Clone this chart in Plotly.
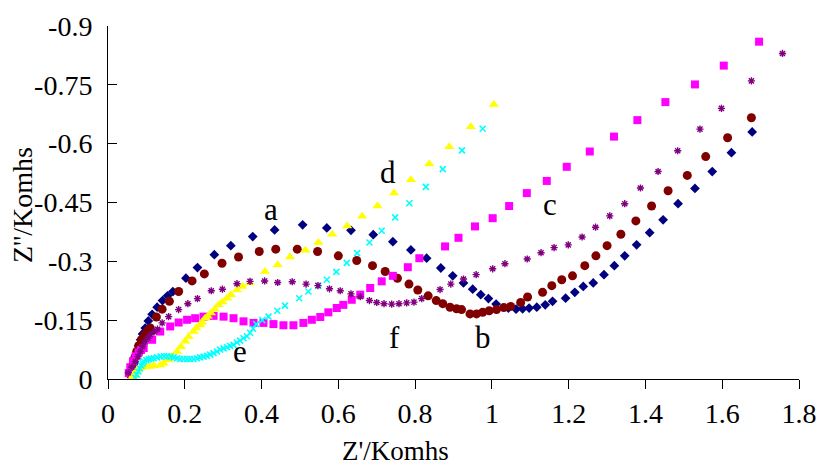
import plotly.graph_objects as go

# ---------------- data (Z' in kOhm, Z'' in kOhm, negative) ----------------
a_x = [0.062, 0.065, 0.068, 0.072, 0.076, 0.080, 0.085, 0.090, 0.097, 0.105, 0.115, 0.128, 0.142, 0.155,
       0.169, 0.203, 0.233, 0.277, 0.320, 0.377, 0.434, 0.507, 0.570, 0.633, 0.691,
       0.742, 0.789, 0.830, 0.867, 0.898, 0.926, 0.950, 0.971, 0.991, 1.011, 1.043, 1.063, 1.080,
       1.097, 1.117, 1.139, 1.158, 1.192, 1.216, 1.238, 1.264, 1.292, 1.319, 1.346, 1.377, 1.411,
       1.446, 1.485, 1.529, 1.574, 1.624, 1.678]
a_y = [-0.010, -0.025, -0.040, -0.055, -0.070, -0.085, -0.100, -0.115, -0.130, -0.148, -0.165, -0.183, -0.200, -0.212,
       -0.223, -0.257, -0.284, -0.317, -0.340, -0.363, -0.380, -0.393, -0.385, -0.379, -0.368,
       -0.350, -0.329, -0.308, -0.283, -0.263, -0.245, -0.229, -0.215, -0.205, -0.191, -0.181, -0.178, -0.179,
       -0.181, -0.183, -0.189, -0.198, -0.206, -0.221, -0.236, -0.245, -0.266, -0.289, -0.314, -0.342, -0.373,
       -0.406, -0.447, -0.486, -0.529, -0.577, -0.630]

b_x = [0.058, 0.062, 0.066, 0.070, 0.075, 0.080, 0.087, 0.095, 0.102, 0.110, 0.126, 0.141, 0.160, 0.184,
       0.219, 0.251, 0.297, 0.340, 0.394, 0.437, 0.493, 0.546, 0.600, 0.648, 0.689, 0.722, 0.754,
       0.784, 0.807, 0.834, 0.855, 0.872, 0.891, 0.908, 0.921, 0.943, 0.960, 0.976, 0.993, 1.012,
       1.031, 1.049, 1.075, 1.093, 1.132, 1.156, 1.182, 1.210, 1.242, 1.271, 1.300, 1.336, 1.375,
       1.416, 1.459, 1.509, 1.557, 1.614, 1.676]
b_y = [-0.011, -0.025, -0.040, -0.055, -0.070, -0.085, -0.100, -0.112, -0.122, -0.130, -0.158, -0.178, -0.198, -0.223,
       -0.250, -0.268, -0.295, -0.311, -0.325, -0.331, -0.331, -0.325, -0.314, -0.302, -0.289, -0.274, -0.257,
       -0.242, -0.227, -0.212, -0.200, -0.192, -0.183, -0.179, -0.177, -0.166, -0.166, -0.170, -0.174, -0.177,
       -0.182, -0.185, -0.195, -0.209, -0.221, -0.238, -0.253, -0.263, -0.289, -0.314, -0.340, -0.369, -0.403,
       -0.441, -0.480, -0.519, -0.567, -0.615, -0.666]

c_x = [0.054, 0.058, 0.065, 0.072, 0.080, 0.086, 0.093, 0.115, 0.136, 0.162, 0.184, 0.206, 0.227, 0.249,
       0.275, 0.301, 0.327, 0.353, 0.379, 0.405, 0.431, 0.457, 0.483, 0.509, 0.531, 0.553, 0.574,
       0.596, 0.613, 0.635, 0.657, 0.683, 0.713, 0.742, 0.781, 0.811, 0.878, 0.913, 0.956, 1.002,
       1.045, 1.091, 1.143, 1.195, 1.255, 1.318, 1.379, 1.452, 1.529, 1.604, 1.696]
c_y = [-0.015, -0.030, -0.045, -0.058, -0.068, -0.074, -0.079, -0.100, -0.121, -0.134, -0.144, -0.151, -0.155, -0.159,
       -0.161, -0.159, -0.155, -0.147, -0.143, -0.143, -0.140, -0.137, -0.137, -0.143, -0.151, -0.158, -0.170,
       -0.181, -0.189, -0.202, -0.215, -0.232, -0.249, -0.263, -0.285, -0.308, -0.338, -0.360, -0.389, -0.410,
       -0.441, -0.474, -0.505, -0.541, -0.580, -0.618, -0.660, -0.706, -0.751, -0.799, -0.860]

d_x = [0.062, 0.066, 0.070, 0.075, 0.084, 0.090, 0.100, 0.110, 0.120, 0.136, 0.145, 0.158, 0.165, 0.180,
       0.190, 0.201, 0.210, 0.223, 0.230, 0.240, 0.245, 0.253, 0.260, 0.268, 0.278, 0.288, 0.298,
       0.310, 0.320, 0.336, 0.350, 0.369, 0.409, 0.442, 0.474, 0.514, 0.548, 0.584, 0.623, 0.662,
       0.702, 0.745, 0.789, 0.837, 0.889, 0.945, 1.005]
d_y = [-0.002, -0.008, -0.015, -0.022, -0.028, -0.030, -0.031, -0.032, -0.034, -0.036, -0.040, -0.049, -0.057, -0.070,
       -0.082, -0.096, -0.108, -0.121, -0.130, -0.138, -0.145, -0.155, -0.160, -0.168, -0.178, -0.189, -0.196,
       -0.206, -0.215, -0.227, -0.236, -0.245, -0.274, -0.291, -0.311, -0.328, -0.348, -0.369, -0.390, -0.415,
       -0.441, -0.474, -0.508, -0.548, -0.592, -0.643, -0.700]

e_x = [0.071, 0.075, 0.079, 0.083, 0.087, 0.090, 0.093, 0.100, 0.106, 0.112, 0.119, 0.128, 0.137, 0.146,
       0.154, 0.163, 0.171, 0.180, 0.188, 0.197, 0.206, 0.214, 0.223, 0.232, 0.240, 0.249, 0.258,
       0.266, 0.275, 0.284, 0.292, 0.301, 0.310, 0.318, 0.327, 0.336, 0.344, 0.353, 0.362, 0.370,
       0.378, 0.386, 0.402, 0.418, 0.441, 0.461, 0.498, 0.522, 0.548, 0.570, 0.595, 0.622, 0.649,
       0.681, 0.713, 0.748, 0.785, 0.828, 0.872, 0.922, 0.976]
e_y = [-0.003, -0.011, -0.019, -0.027, -0.034, -0.040, -0.045, -0.048, -0.050, -0.052, -0.053, -0.055, -0.057, -0.058,
       -0.058, -0.057, -0.055, -0.053, -0.051, -0.051, -0.051, -0.051, -0.051, -0.053, -0.055, -0.057, -0.059,
       -0.062, -0.066, -0.070, -0.075, -0.078, -0.081, -0.084, -0.087, -0.093, -0.098, -0.104, -0.109, -0.118,
       -0.128, -0.140, -0.150, -0.159, -0.174, -0.187, -0.206, -0.223, -0.238, -0.253, -0.273, -0.296, -0.321,
       -0.348, -0.378, -0.412, -0.448, -0.490, -0.535, -0.583, -0.638]

f_x = [0.053, 0.062, 0.071, 0.078, 0.084, 0.090, 0.097, 0.104, 0.110, 0.120, 0.129, 0.141, 0.158, 0.184,
       0.208, 0.233, 0.269, 0.298, 0.336, 0.370, 0.408, 0.442, 0.480, 0.516, 0.547, 0.577, 0.605,
       0.633, 0.657, 0.681, 0.700, 0.719, 0.739, 0.758, 0.778, 0.797, 0.817, 0.865, 0.893, 0.926,
       0.959, 1.002, 1.034, 1.092, 1.128, 1.162, 1.199, 1.235, 1.270, 1.307, 1.346, 1.387, 1.433,
       1.484, 1.542, 1.598, 1.676, 1.757]
f_y = [-0.016, -0.030, -0.044, -0.057, -0.070, -0.083, -0.095, -0.104, -0.113, -0.120, -0.127, -0.143, -0.159, -0.177,
       -0.192, -0.205, -0.225, -0.229, -0.243, -0.249, -0.250, -0.246, -0.248, -0.242, -0.238, -0.230, -0.225,
       -0.217, -0.210, -0.200, -0.195, -0.192, -0.191, -0.192, -0.194, -0.196, -0.205, -0.228, -0.242, -0.255,
       -0.266, -0.281, -0.294, -0.306, -0.322, -0.335, -0.342, -0.362, -0.387, -0.416, -0.447, -0.487, -0.529,
       -0.582, -0.637, -0.690, -0.760, -0.830]

x_ticks = [0, 0.2, 0.4, 0.6, 0.8, 1, 1.2, 1.4, 1.6, 1.8]
x_tick_text = ["0", "0.2", "0.4", "0.6", "0.8", "1", "1.2", "1.4", "1.6", "1.8"]
y_ticks = [0, -0.15, -0.3, -0.45, -0.6, -0.75, -0.9]
y_tick_text = ["0", "-0.15", "-0.3", "-0.45", "-0.6", "-0.75", "-0.9"]

label_text = ["a", "b", "c", "d", "e", "f"]
label_x = [0.425, 0.977, 1.151, 0.730, 0.344, 0.745]
label_y = [-0.431, -0.105, -0.444, -0.527, -0.070, -0.105]

# ---------------- figure ----------------
FONT = "Liberation Serif, Times New Roman, serif"
W, H = 819, 468
L, R, T, B = 108, 20, 26, 89

series = [
    (a_x, a_y, "diamond", "#000080", 7.5, 0),
    (b_x, b_y, "circle", "#800000", 9, 0),
    (c_x, c_y, "square", "#FF00FF", 8, 0),
    (d_x, d_y, "triangle-up", "#FFFF00", 9, 0),
    (e_x, e_y, "x-thin-open", "#00FFFF", 6, 1.6),
    (f_x, f_y, "asterisk-open", "#800080", 6, 1.4),
]

fig = go.Figure()
for xs, ys, sym, col, sz, lw in series:
    if lw:
        mk = dict(symbol=sym, size=sz, color=col, line=dict(color=col, width=lw))
    else:
        mk = dict(symbol=sym, size=sz, color=col, line=dict(width=0))
    fig.add_trace(go.Scatter(x=xs, y=ys, mode="markers", marker=mk, showlegend=False,
                             hoverinfo="skip"))

for t, lx, ly in zip(label_text, label_x, label_y):
    fig.add_annotation(x=lx, y=ly, xref="x", yref="y", text=t, showarrow=False,
                       xanchor="center", yanchor="middle",
                       font=dict(family=FONT, size=31, color="black"))

pw = W - L - R
ph = H - T - B
# axis titles: page-pixel centres converted to paper coordinates
fig.add_annotation(x=(395 - L) / pw, y=(H - B - 451) / ph, xref="paper", yref="paper",
                   text="Z'/Komhs", showarrow=False, xanchor="center", yanchor="middle",
                   font=dict(family=FONT, size=27, color="black"))
fig.add_annotation(x=(23 - L) / pw, y=(H - B - 205) / ph, xref="paper", yref="paper",
                   text="Z''/Komhs", showarrow=False, textangle=-90,
                   xanchor="center", yanchor="middle",
                   font=dict(family=FONT, size=28, color="black"))

fig.update_layout(
    width=W, height=H,
    margin=dict(l=L, r=R, t=T, b=B, pad=0, autoexpand=False),
    plot_bgcolor="white", paper_bgcolor="white",
    font=dict(family=FONT, size=28, color="black"),
)
fig.update_xaxes(range=[0, 1.8], tickvals=x_ticks, ticktext=x_tick_text, automargin=False,
                 showgrid=False, zeroline=False, showline=True, linecolor="black", linewidth=1,
                 ticks="outside", ticklen=9, tickcolor="black", tickwidth=1,
                 ticklabeloverflow="allow",
                 tickfont=dict(family=FONT, size=28, color="black"))
fig.update_yaxes(range=[0, -0.9], tickvals=y_ticks, ticktext=y_tick_text, automargin=False,
                 showgrid=False, zeroline=False, showline=True, linecolor="black", linewidth=1,
                 ticks="inside", ticklen=9, tickcolor="black", tickwidth=1,
                 ticklabelstandoff=9, ticklabeloverflow="allow",
                 tickfont=dict(family=FONT, size=28, color="black"))

fig.write_html("out.html",
               config={"displayModeBar": False, "staticPlot": True},
               post_script="document.body.style.margin='0';"
                           "document.body.style.overflow='hidden';")
